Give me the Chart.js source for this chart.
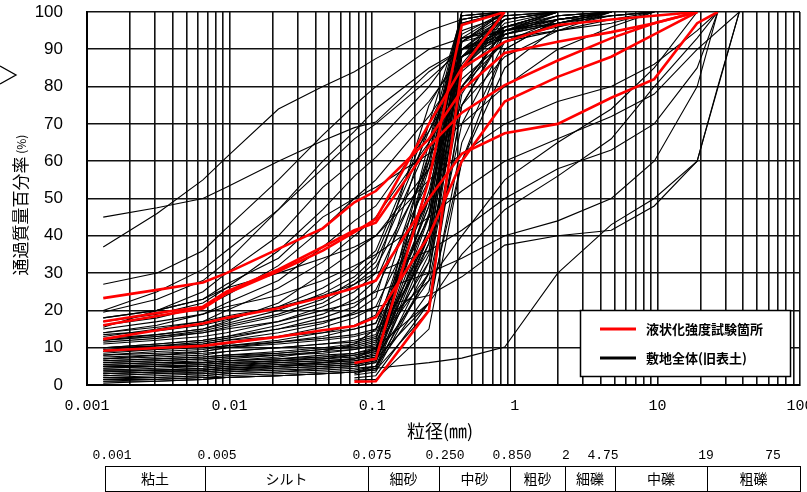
<!DOCTYPE html>
<html>
<head>
<meta charset="utf-8">
<script src="https://cdn.jsdelivr.net/npm/chart.js@4.4.1/dist/chart.umd.min.js"></script>
<style>
	html, body { margin:0; padding:0; background:#fff; }
	#wrap { position:relative; width:807px; height:492px; }
</style>
</head>
<body>
<div id="wrap"><canvas id="chart_grain"></canvas></div>
<script>
// 粒径 (mm) - 各試料の測定点
var grainSizes = [0.0013, 0.0031, 0.0065, 0.0095, 0.022, 0.045, 0.075, 0.106, 0.25, 0.425, 0.85, 2, 4.75, 9.5, 19, 26.5, 37.5];

var xTickValues = [0.001, 0.01, 0.1, 1, 10, 100];
var xTickLabels = ['0.001', '0.01', '0.1', '1', '10', '100'];

var seriesNames = ['液状化強度試験箇所', '敷地全体(旧表土)'];

// 液状化強度試験箇所 (通過質量百分率 %)
var redCurves = [
	[23.3, 25.5, 27.5, 30, 36.5, 42, 49, 52, 66, 79, 89, 92, 94.6, 97, 100],
	[17, 19.3, 21, 25, 31, 37, 41.5, 43.5, 64, 73, 80.4, 87, 93, 97, 100],
	[16, 18.5, 20.5, 24.5, 30.5, 36, 41, 44.5, 70, 85, 92, 96.5, 98, 99, 100],
	[12.3, 14.7, 16.5, 18, 20.6, 23.6, 26, 28, 50, 62, 67.5, 70, 77, 82, 97, 100],
	[9.2, 9.9, 10.5, 11.3, 12.9, 14.7, 15.8, 18.2, 40, 60, 76, 82.6, 88, 94, 100],
	[null, null, null, null, null, null, 5.9, 7, 55, 96.5, 100],
	[null, null, null, null, null, null, 0.9, 1, 20, 85, 100]
];

// 敷地全体(旧表土)
var blackCurves = [
	[0.5, 1, 1.5, 2, 2.5, 3, 3.5, 4.5, 38, 98, 100],
	[1, 1.5, 2, 2.5, 3, 3.5, 4, 5, 30, 92, 100],
	[1.5, 2, 2.5, 3, 3.5, 4.5, 5, 6, 45, 99, 100],
	[2, 2.5, 3, 3.5, 4.5, 5, 5.5, 6.5, 35, 95, 99, 100],
	[2.5, 3, 3.5, 4, 5, 5.5, 6, 7, 50, 100],
	[3, 3.5, 4, 4.5, 5.5, 6, 6.5, 7.5, 40, 90, 99, 100],
	[3.5, 4, 4.5, 5, 6, 6.5, 7, 8.5, 55, 100],
	[4, 4.5, 5, 5.5, 6.5, 7, 7.5, 9, 42, 94, 100],
	[4.5, 5, 5.5, 6, 6.5, 7.5, 8, 9.5, 60, 100],
	[5, 5.5, 6, 6.5, 7, 8, 8.5, 10, 33, 85, 97, 100],
	[5.5, 6, 6.5, 7, 8, 8.5, 9.5, 11, 48, 98, 100],
	[6, 6.5, 7, 7.5, 8.5, 9.5, 10, 11.5, 40, 88, 95, 98, 100],
	[6.5, 7, 7.5, 8, 9, 10, 11, 12.5, 52, 90, 94, 97, 100],
	[7, 7.5, 8, 9, 10, 11, 11.5, 13, 36, 80, 95, 99, 100],
	[8, 8.5, 9, 10, 11, 12, 13, 14.5, 58, 99, 100],
	[2, 2, 2.5, 3, 3.5, 4, 4.5, 5, 25, 75, 94, 99, 100],
	[3, 3.5, 3.5, 4, 4.5, 5, 5.5, 6.5, 62, 100],
	[4, 4, 4.5, 5, 5.5, 6, 6.5, 7.5, 28, 70, 92, 98, 100],
	[5, 5, 5.5, 6, 6.5, 7, 8, 9, 65, 100],
	[6, 6.5, 7, 7.5, 8, 9, 9.5, 10.5, 30, 78, 96, 100],
	[1, 1, 1.5, 2, 2.5, 3, 3.5, 4, 20, 65, 90, 98, 100],
	[7.5, 8, 8.5, 9, 10, 11, 12, 13.5, 48, 93, 96, 98, 99, 100],
	[1.5, 1.5, 2, 2, 2.5, 3, 3.5, 4, 33, 88, 100],
	[2.5, 3, 3, 3.5, 4, 4.5, 5, 6, 42, 97, 100],
	[3.5, 4, 4, 4.5, 5, 5.5, 6, 7, 22, 60, 85, 96, 100],
	[4.5, 5, 5, 5.5, 6, 6.5, 7, 8, 46, 93, 100],
	[5.5, 6, 6, 6.5, 7, 7.5, 8.5, 9.5, 38, 86, 100],
	[6.5, 7, 7.5, 8, 8.5, 9.5, 10.5, 12, 55, 92, 95, 97, 100],
	[9, 9.5, 10, 10.5, 11.5, 12.5, 13.5, 15, 45, 85, 92, 95, 98, 100],
	[10, 10.5, 11, 12, 13, 14, 15, 16.5, 50, 88, 93, 96, 99, 100],
	[13.5, 14.5, 16, 17.5, 21, 26, 31, 36, 70, 88, 94, 97, 99, 100],
	[12, 13, 14.5, 16, 19, 23, 28, 33, 65, 92, 99, 100],
	[11, 12, 13, 14, 17, 21, 25, 30, 75, 90, 95, 98, 100],
	[10, 11, 12, 13, 16, 19, 23, 28, 60, 90, 98, 100],
	[9.5, 10.5, 11.5, 12.5, 15, 18, 21, 25.5, 55, 85, 96, 100],
	[9, 10, 11, 12, 14, 16.5, 19.5, 23.5, 70, 99, 100],
	[8.5, 9.5, 10.5, 11, 13, 15.5, 18, 21, 50, 88, 98, 100],
	[8, 9, 9.5, 10.5, 12, 14, 16, 18.8, 62, 97, 100],
	[7, 8, 9, 10, 11.5, 13, 15, 16.6, 45, 80, 95, 100],
	[11.5, 12.5, 14, 15.5, 18.5, 22, 27, 31.6, 58, 82, 92, 97, 100],
	[12.5, 13.5, 15, 16.5, 20, 24.5, 29, 34.5, 68, 88, 96, 100],
	[45, 47.5, 50, 53, 60, 65.5, 69, 70.5, 84, 90, 95, 98, 100],
	[37, 46, 55, 61, 74, 80, 84, 87.5, 95, 98, 100],
	[27, 30, 36, 42, 55, 67, 75, 80, 90, 93, 95, 97, 99, 100],
	[20, 25, 31, 36, 47, 60, 68, 74, 85, 90, 93, 95, 97, 100],
	[19.5, 23, 28, 33, 47, 58, 66, 70, 82, 90, 96, 100],
	[15.5, 20, 25, 30, 40, 53, 60, 65, 80, 92, 98, 100],
	[17, 19, 22, 26, 36, 47, 56, 61, 76, 88, 96, 99, 100],
	[16, 18, 21, 24, 32, 42, 50, 55, 72, 85, 95, 100],
	[14, 16, 19, 22, 28, 37, 44, 48, 68, 84, 94, 98, 100],
	[13, 15, 17, 20, 26, 33, 40, 45, 65, 80, 92, 97, 100],
	[18, 20, 23, 27, 34, 45, 50, 53, 62, 70, 80, 90, 96, 100],
	[12, 13.5, 15, 17, 22, 30, 36, 40, 58, 75, 88, 95, 100],
	[null, null, null, null, null, null, 3, 4.5, 6, 7.2, 10.2, 30, 43, 50, 60, null, 100],
	[10, 11, 12, 13, 15, 17, 19, 21, 24, 29, 37.5, 40, 41.5, 48, 60, 80, 100],
	[12, 13, 14, 15, 17, 20, 22, 25, 30, 34, 40, 44, 50, 60, 80, 100],
	[14, 15.5, 17, 18.5, 21, 24, 27, 30, 36, 41.5, 50, 58, 63, 70, 85, 100],
	[15, 17, 19, 21, 24, 28, 32, 35, 45, 52, 60, 66, 72, 78, 90, null, 100],
	[18, 20, 23, 26, 30, 34, 37, 40, 55, 62, 70, 76, 80, 86, 95, 100],
	[5, 5.5, 6, 6.5, 7.5, 9, 11, 15, 28, 40, 55, 65, 74, 85, 100],
	[3, 3.5, 4, 4.5, 5, 6, 7, 10, 22, 35, 47, 56, 66, 80, 93, 100],
	[null, null, null, null, null, null, 2.7, 3.5, 30, 85, 98, 100],
	[null, null, null, null, null, null, 1.9, 2.5, 22, 75, 95, 99, 100],
	[null, null, null, null, null, null, 1.3, 1.5, 15, 60, 90, 98, 100],
	[null, null, null, null, null, null, 3.5, 5, 40, 92, 100]
];

// 土質区分
var classBounds = ['0.001', '0.005', '0.075', '0.250', '0.850', '2', '4.75', '19', '75'];
var classNames = ['粘土', 'シルト', '細砂', '中砂', '粗砂', '細礫', '中礫', '粗礫'];

function toPoints(values){
	var pts = [];
	values.forEach(function(v, i){
		if (v !== null && v !== undefined) pts.push({x: grainSizes[i], y: v});
	});
	return pts;
}

var datasets = [];
redCurves.forEach(function(c){
	datasets.push({ data: toPoints(c), borderColor: '#ff0000', borderWidth: 2.6, order: 0 });
});
blackCurves.forEach(function(c){
	datasets.push({ data: toPoints(c), borderColor: '#000000', borderWidth: 1.1, order: 1 });
});

var jpFont = '"Noto Sans CJK JP", "Noto Sans", sans-serif';

var extras = {
	id: 'extras',
	afterDraw: function(chart){
		var ctx = chart.ctx;
		ctx.save();
		ctx.fillStyle = '#000';
		ctx.strokeStyle = '#000';

		// 左上の記号 (切れている)
		ctx.lineWidth = 1.3;
		ctx.beginPath();
		ctx.moveTo(0, 66); ctx.lineTo(16, 75); ctx.lineTo(0, 84);
		ctx.stroke();

		// y 軸タイトル
		ctx.save();
		ctx.translate(21, 205);
		ctx.rotate(-Math.PI / 2);
		ctx.textBaseline = 'middle';
		ctx.font = '17px ' + jpFont;
		var t1 = '通過質量百分率';
		var w1 = ctx.measureText(t1).width;
		ctx.font = '12px ' + jpFont;
		var t2 = ' (%)';
		var w2 = ctx.measureText(t2).width;
		var sx = -(w1 + w2) / 2;
		ctx.font = '17px ' + jpFont;
		ctx.textAlign = 'left';
		ctx.fillText(t1, sx, 0);
		ctx.font = '12px ' + jpFont;
		ctx.fillText(t2, sx + w1, 0);
		ctx.restore();

		// x 軸タイトル
		ctx.font = '18px ' + jpFont;
		ctx.textAlign = 'center';
		ctx.textBaseline = 'middle';
		ctx.fillText('粒径(㎜)', 440, 431);

		// 凡例
		ctx.fillStyle = '#fff';
		ctx.fillRect(580, 310, 211, 67);
		ctx.lineWidth = 1.5;
		ctx.strokeRect(580.5, 310.5, 210, 66);
		ctx.lineWidth = 3;
		ctx.strokeStyle = '#ff0000';
		ctx.beginPath(); ctx.moveTo(600, 329); ctx.lineTo(636, 329); ctx.stroke();
		ctx.strokeStyle = '#000';
		ctx.beginPath(); ctx.moveTo(600, 358); ctx.lineTo(636, 358); ctx.stroke();
		ctx.fillStyle = '#000';
		ctx.font = 'bold 13px ' + jpFont;
		ctx.textAlign = 'left';
		ctx.fillText(seriesNames[0], 646, 329);
		ctx.fillText(seriesNames[1], 646, 358);

		// 土質区分表
		var boundX = [105, 205, 368, 439, 510, 565, 615, 707, 800];
		var labelX = [112, 217, 372, 445, 512, 566, 603, 706, 773];
		ctx.font = '13px "Liberation Mono", monospace';
		ctx.textAlign = 'center';
		classBounds.forEach(function(b, i){ ctx.fillText(b, labelX[i], 456); });
		ctx.lineWidth = 1;
		ctx.strokeRect(105.5, 466.5, 695, 25);
		for (var i = 1; i < boundX.length - 1; i++) {
			ctx.beginPath(); ctx.moveTo(boundX[i] + 0.5, 466); ctx.lineTo(boundX[i] + 0.5, 492); ctx.stroke();
		}
		ctx.font = '14px ' + jpFont;
		classNames.forEach(function(n, i){ ctx.fillText(n, (boundX[i] + boundX[i + 1]) / 2, 479); });
		ctx.restore();
	}
};

Chart.defaults.color = '#000';

var canvas = document.getElementById('chart_grain').getContext('2d');
window.grainChart = new Chart(canvas, {
	type: 'line',
	data: { datasets: datasets },
	options: {
		responsive: true,
		maintainAspectRatio: false,
		animation: false,
		parsing: false,
		elements: { point: { radius: 0 }, line: { tension: 0 } },
		layout: { padding: { left: 0, right: 7, top: 12, bottom: 0 } },
		plugins: { legend: { display: false }, tooltip: { enabled: false } },
		scales: {
			x: {
				type: 'logarithmic',
				min: 0.001,
				max: 100,
				afterBuildTicks: function(scale){
					var ticks = [];
					for (var d = 0; d < 5; d++) {
						for (var m = 1; m < 10; m++) ticks.push({ value: m * xTickValues[d] });
					}
					ticks.push({ value: 100 });
					scale.ticks = ticks;
				},
				afterFit: function(scale){
					scale.height = 107;
					scale.paddingLeft = 0;
					scale.paddingRight = 0;
				},
				ticks: {
					autoSkip: false,
					maxRotation: 0,
					padding: 12,
					font: { family: '"Liberation Mono", monospace', size: 15 },
					callback: function(v){
						for (var i = 0; i < xTickValues.length; i++) {
							if (Math.abs(v / xTickValues[i] - 1) < 1e-6) return xTickLabels[i];
						}
						return '';
					}
				},
				grid: { color: '#111', lineWidth: 1.6, drawTicks: false },
				border: { color: '#000', width: 2 }
			},
			y: {
				min: 0,
				max: 100,
				afterFit: function(scale){
					scale.width = 87;
					scale.paddingTop = 0;
					scale.paddingBottom = 0;
				},
				ticks: {
					stepSize: 10,
					padding: 24,
					font: { family: '"Liberation Sans", Arial, sans-serif', size: 17 }
				},
				grid: { color: '#111', lineWidth: 1.6, drawTicks: false },
				border: { color: '#000', width: 2 }
			}
		}
	},
	plugins: [extras]
});
</script>
</body>
</html>
